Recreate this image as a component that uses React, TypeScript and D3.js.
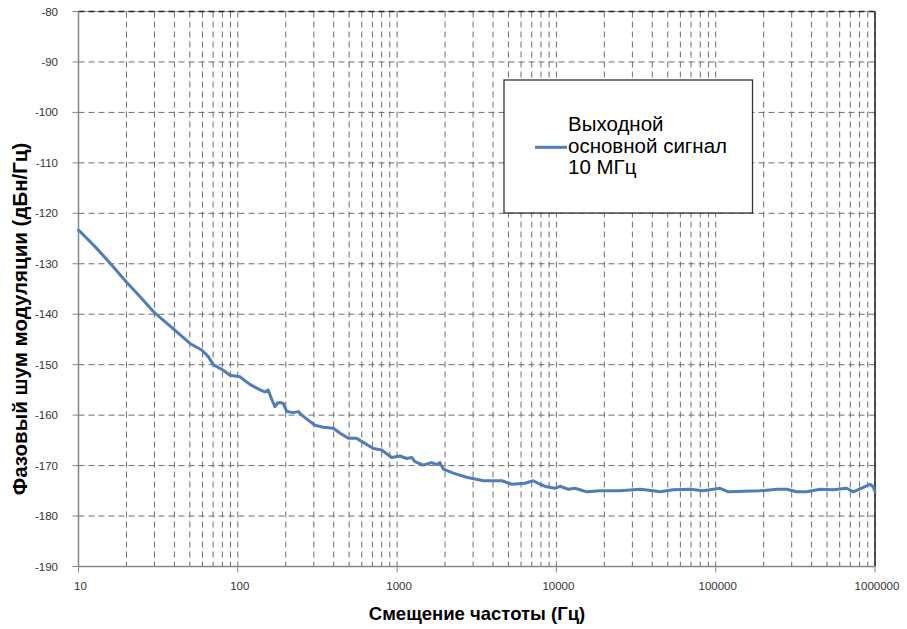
import React from "react";
import * as d3 from "d3";

const freqHz = [
  10, 12.7, 15.8, 20.1, 24.3, 30.2, 37.5, 50.1, 59.3, 65.3, 70.2, 81.1, 89.3,
  103, 119, 138, 148, 155, 163, 171, 178, 184, 193, 203, 223, 240, 252, 305,
  344, 398, 439, 494, 557, 710, 800, 925, 1042, 1148, 1236, 1294, 1459, 1648,
  1774, 1858, 1950, 2254, 2735, 3475, 4539, 5236, 6353, 7161, 7889, 8690, 9795,
  10544, 11885, 13092, 14060, 15488, 18793, 25061, 33497, 40551, 44668, 54200,
  68865, 83560, 106414, 119950, 189670, 241546, 279254, 322107, 372392, 451856,
  547016, 663743, 731139, 845279, 931108, 975000, 1000000,
];
const noiseDbc = [
  -123.3, -126.6, -129.9, -133.7, -136.5, -139.8, -142.3, -145.8, -147.1, -148.4,
  -150.0, -151.1, -152.1, -152.4, -153.9, -155.0, -155.4, -155.0, -156.8, -158.3,
  -157.6, -157.5, -157.7, -159.3, -159.5, -159.3, -160.0, -162.0, -162.4, -162.6,
  -163.6, -164.6, -164.6, -166.6, -166.9, -168.4, -168.1, -168.6, -168.4, -169.2,
  -169.9, -169.4, -169.8, -169.4, -170.7, -171.5, -172.3, -173.0, -173.0, -173.7,
  -173.5, -173.0, -173.7, -174.2, -174.5, -174.1, -174.7, -174.5, -174.8, -175.2,
  -175.0, -175.0, -174.7, -175.0, -175.2, -174.8, -174.7, -175.0, -174.5, -175.2,
  -175.0, -174.7, -174.7, -175.2, -175.2, -174.7, -174.8, -174.5, -175.2, -174.3,
  -173.7, -174.2, -175.2,
];
const xTickValues = [10, 100, 1000, 10000, 100000, 1000000];
const xTickLabels = ["10", "100", "1000", "10000", "100000", "1000000"];
const yTickValues = [-190, -180, -170, -160, -150, -140, -130, -120, -110, -100, -90, -80];
const legendLines = ["Выходной", "основной сигнал", "10 МГц"];
const xTitle = "Смещение частоты (Гц)";
const yTitle = "Фазовый шум модуляции (дБн/Гц)";

const W = 907;
const H = 629;
const L = 78.5;
const R = 875;
const T = 11.5;
const B = 566.5;

export default function App() {
  const x = d3.scaleLog().domain([10, 1e6]).range([L, R]);
  const y = d3.scaleLinear().domain([-190, -80]).range([B, T]);

  const minor: number[] = [];
  for (let e = 1; e < 6; e++) {
    for (let m = 1; m <= 9; m++) {
      const v = m * Math.pow(10, e);
      if (v > 10) minor.push(v);
    }
  }
  minor.push(1e6);

  const line = d3
    .line<number>()
    .x((_, i) => x(freqHz[i]))
    .y((d) => y(d));

  const font = "Arial, 'Liberation Sans', sans-serif";
  const gridColor = "#6e6e6e";

  return (
    <svg
      width={W}
      height={H}
      style={{ position: "absolute", left: 0, top: 0, background: "#fff" }}
      fontFamily={font}
    >
      <rect x={0} y={0} width={W} height={H} fill="#fff" />
      {minor.map((v, i) => (
        <line
          key={"vg" + i}
          x1={x(v)}
          x2={x(v)}
          y1={T}
          y2={B}
          stroke={gridColor}
          strokeWidth={1}
          strokeDasharray="6,4"
        />
      ))}
      {yTickValues.map((v, i) => (
        <line
          key={"hg" + i}
          x1={L}
          x2={R}
          y1={y(v)}
          y2={y(v)}
          stroke={gridColor}
          strokeWidth={1}
          strokeDasharray="6,4"
        />
      ))}
      <line x1={L} x2={R} y1={T} y2={T} stroke="#999" strokeWidth={1} />
      <line x1={L} x2={R} y1={T} y2={T} stroke="#222" strokeWidth={1.5} strokeDasharray="6,4" />
      <line x1={R} x2={R} y1={T} y2={B} stroke="#222" strokeWidth={1.5} />
      <line x1={L} x2={L} y1={T} y2={B} stroke="#868686" strokeWidth={1.5} />
      <line x1={L} x2={R} y1={B} y2={B} stroke="#868686" strokeWidth={1.5} />
      {yTickValues.map((v, i) => (
        <g key={"yt" + i}>
          <line x1={L - 6} x2={L} y1={y(v)} y2={y(v)} stroke="#868686" strokeWidth={1} />
          <text x={58} y={y(v) + 4} fontSize={11.5} textAnchor="end" fill="#333">
            {v}
          </text>
        </g>
      ))}
      {xTickValues.map((v, i) => (
        <g key={"xt" + i}>
          <line x1={x(v)} x2={x(v)} y1={B} y2={B + 6} stroke="#868686" strokeWidth={1} />
          <text x={x(v) + 2} y={590} fontSize={11.5} textAnchor="middle" fill="#333">
            {xTickLabels[i]}
          </text>
        </g>
      ))}
      <path
        d={line(noiseDbc) || ""}
        fill="none"
        stroke="#4F7DB8"
        strokeWidth={3}
        strokeLinejoin="round"
        strokeLinecap="round"
      />
      <rect x={504} y={80} width={248.5} height={133} fill="#fff" stroke="#333" strokeWidth={1.3} />
      <line x1={535} x2={567} y1={147.3} y2={147.3} stroke="#4F7DB8" strokeWidth={3} />
      {legendLines.map((t, i) => (
        <text key={"lg" + i} x={568} y={131 + i * 21.5} fontSize={20.5} fill="#000">
          {t}
        </text>
      ))}
      <text x={477} y={620} fontSize={18.5} fontWeight="bold" textAnchor="middle" fill="#000">
        {xTitle}
      </text>
      <text
        transform={`translate(27,319) rotate(-90)`}
        fontSize={20.5}
        fontWeight="bold"
        textAnchor="middle"
        fill="#000"
      >
        {yTitle}
      </text>
    </svg>
  );
}
